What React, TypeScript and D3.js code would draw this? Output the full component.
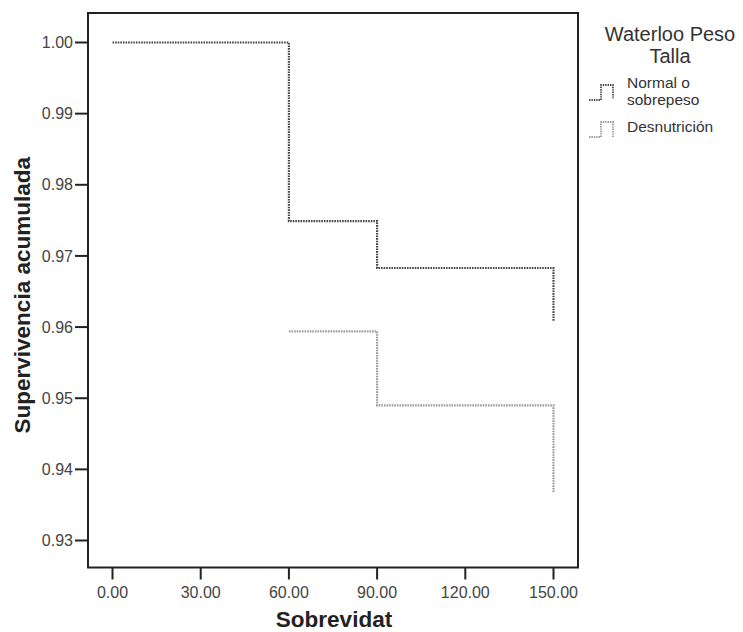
import React from 'react';
import * as d3 from 'd3';

// Kaplan-Meier steps
const normalTimes = [0, 60, 90, 150];
const normalSurv = [1.0, 0.9749, 0.9683, 0.9609];
const desnTimes = [60, 90, 150];
const desnSurv = [0.9594, 0.949, 0.9368];

const xTicks = [0, 30, 60, 90, 120, 150];
const yTicks = [0.93, 0.94, 0.95, 0.96, 0.97, 0.98, 0.99, 1.0];
const legendLabels = [['Normal o', 'sobrepeso'], ['Desnutrición']];

const W = 743;
const H = 632;
const frame = { left: 88, top: 13, right: 578, bottom: 567.5 };
const font = 'Arial, "Liberation Sans", sans-serif';

const App = () => {
  const x = d3.scaleLinear().domain([0, 150]).range([112.5, 553.5]);
  const y = d3.scaleLinear().domain([0.93, 1.0]).range([540.5, 42.5]);

  const line = d3
    .line<[number, number]>()
    .x((d) => x(d[0]))
    .y((d) => y(d[1]))
    .curve(d3.curveStepAfter);

  const normalPath = line(normalTimes.map((t, i) => [t, normalSurv[i]]));
  const desnPath = line(desnTimes.map((t, i) => [t, desnSurv[i]]));

  const seriesStyle = [
    { stroke: '#474747', dash: '1.6,1' },
    { stroke: '#9a9a9a', dash: '1.6,1' },
  ];

  return (
    <svg
      width={W}
      height={H}
      style={{ position: 'absolute', left: 0, top: 0, background: '#fff' }}
      fontFamily={font}
    >
      <rect x={0} y={0} width={W} height={H} fill="#fff" />

      {/* series */}
      <path d={normalPath || ''} fill="none" stroke={seriesStyle[0].stroke} strokeWidth={2.2} strokeDasharray={seriesStyle[0].dash} />
      <path d={desnPath || ''} fill="none" stroke={seriesStyle[1].stroke} strokeWidth={2.2} strokeDasharray={seriesStyle[1].dash} />

      {/* frame */}
      <rect
        x={frame.left}
        y={frame.top}
        width={frame.right - frame.left}
        height={frame.bottom - frame.top}
        fill="none"
        stroke="#222"
        strokeWidth={2}
      />

      {/* y axis */}
      {yTicks.map((t) => (
        <g key={t}>
          <line x1={frame.left - 13} x2={frame.left} y1={y(t)} y2={y(t)} stroke="#222" strokeWidth={2} />
          <text x={frame.left - 15} y={y(t)} dy="0.35em" textAnchor="end" fontSize={16} fill="#444">
            {t.toFixed(2)}
          </text>
        </g>
      ))}

      {/* x axis */}
      {xTicks.map((t) => (
        <g key={t}>
          <line x1={x(t)} x2={x(t)} y1={frame.bottom} y2={frame.bottom + 12} stroke="#222" strokeWidth={2} />
          <text x={x(t)} y={598} textAnchor="middle" fontSize={16} fill="#444">
            {t.toFixed(2)}
          </text>
        </g>
      ))}

      <text x={(frame.left + frame.right) / 2 + 1} y={627} textAnchor="middle" fontSize={22.5} fontWeight="bold" fill="#222">
        Sobrevidat
      </text>
      <text
        transform={`translate(30, ${(frame.top + frame.bottom) / 2 + 5}) rotate(-90)`}
        textAnchor="middle"
        fontSize={22.5}
        fontWeight="bold"
        fill="#222"
      >
        Supervivencia acumulada
      </text>

      {/* legend */}
      <text x={670} y={41} textAnchor="middle" fontSize={20} fill="#333">Waterloo Peso</text>
      <text x={670} y={63} textAnchor="middle" fontSize={20} fill="#333">Talla</text>

      <path d="M589,100 H601 V85 H613 V99" fill="none" stroke={seriesStyle[0].stroke} strokeWidth={1.8} strokeDasharray="1.4,1" />
      <text x={627} y={88} fontSize={15.5} fill="#333">{legendLabels[0][0]}</text>
      <text x={627} y={105} fontSize={15.5} fill="#333">{legendLabels[0][1]}</text>

      <path d="M589,137 H601 V122 H613 V137" fill="none" stroke={seriesStyle[1].stroke} strokeWidth={1.8} strokeDasharray="1.4,1" />
      <text x={627} y={132} fontSize={15.5} fill="#333">{legendLabels[1][0]}</text>
    </svg>
  );
};

export default App;
